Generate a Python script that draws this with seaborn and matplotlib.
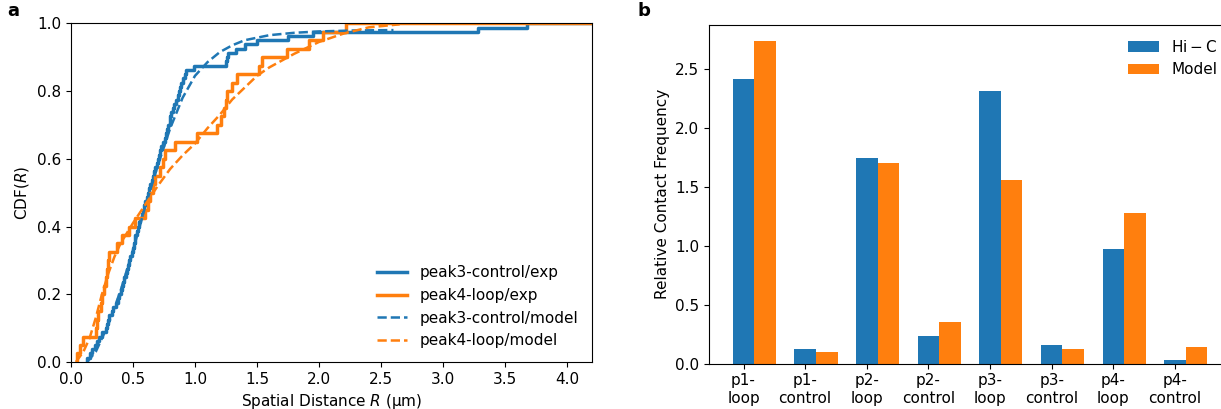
import numpy as np
import pandas as pd
import seaborn as sns
from matplotlib import pyplot as plt

plt.rcParams['font.size'] = 11

# --- panel a: spatial distances (um)
peak3_control_exp = [0.13, 0.15, 0.17, 0.19, 0.21, 0.23, 0.25, 0.28, 0.29, 0.30,
                     0.31, 0.33, 0.34, 0.36, 0.38, 0.39, 0.40, 0.41, 0.42, 0.43,
                     0.44, 0.45, 0.46, 0.47, 0.48, 0.49, 0.50, 0.51, 0.515, 0.52,
                     0.53, 0.54, 0.55, 0.56, 0.57, 0.58, 0.59, 0.60, 0.61, 0.62,
                     0.63, 0.64, 0.65, 0.66, 0.67, 0.68, 0.69, 0.70, 0.71, 0.72,
                     0.73, 0.745, 0.755, 0.765, 0.775, 0.785, 0.795, 0.80, 0.81, 0.82,
                     0.83, 0.845, 0.86, 0.87, 0.88, 0.89, 0.905, 0.92, 0.93, 0.99,
                     1.25, 1.26, 1.27, 1.33, 1.40, 1.50, 1.75, 1.95, 3.28, 3.68]
peak4_loop_exp = [0.05, 0.07, 0.10, 0.20, 0.21, 0.22, 0.24, 0.25, 0.27, 0.28,
                  0.29, 0.30, 0.31, 0.37, 0.41, 0.47, 0.52, 0.60, 0.62, 0.64,
                  0.66, 0.68, 0.72, 0.74, 0.76, 0.84, 1.02, 1.18, 1.21, 1.23,
                  1.25, 1.26, 1.30, 1.34, 1.52, 1.54, 1.74, 1.92, 2.03, 2.22]

peak3_model_r = [0.13, 0.2, 0.3, 0.4, 0.5, 0.6, 0.7, 0.8, 0.9, 1.0, 1.1, 1.2,
                 1.3, 1.4, 1.6, 1.8, 2.0, 2.3, 2.6]
peak3_model_cdf = [0.0, 0.03, 0.11, 0.21, 0.33, 0.46, 0.58, 0.69, 0.78, 0.845,
                   0.885, 0.915, 0.935, 0.95, 0.965, 0.972, 0.976, 0.979, 0.98]
peak4_model_r = [0.04, 0.1, 0.15, 0.2, 0.25, 0.3, 0.35, 0.4, 0.5, 0.6, 0.7, 0.8,
                 0.9, 1.0, 1.1, 1.2, 1.3, 1.4, 1.5, 1.6, 1.8, 2.0, 2.2, 2.4, 2.65]
peak4_model_cdf = [0.0, 0.03, 0.07, 0.13, 0.2, 0.26, 0.31, 0.35, 0.41, 0.465,
                   0.52, 0.57, 0.61, 0.645, 0.69, 0.73, 0.775, 0.81, 0.845, 0.87,
                   0.91, 0.945, 0.97, 0.988, 0.997]

# --- panel b: relative contact frequency
pairs = ["p1-\nloop", "p1-\ncontrol", "p2-\nloop", "p2-\ncontrol",
         "p3-\nloop", "p3-\ncontrol", "p4-\nloop", "p4-\ncontrol"]
hic = [2.42, 0.12, 1.75, 0.235, 2.32, 0.16, 0.97, 0.03]
model = [2.74, 0.10, 1.70, 0.355, 1.56, 0.125, 1.28, 0.14]

blue = "#1f77b4"
orange = "#ff7f0e"

fig = plt.figure(figsize=(12.21, 4.09), dpi=100)
ax1 = fig.add_axes([0.0581, 0.115, 0.4267, 0.828])
ax2 = fig.add_axes([0.5807, 0.111, 0.4275, 0.828])

sns.ecdfplot(x=peak3_control_exp, ax=ax1, color=blue, lw=2.5, label="peak3-control/exp")
sns.ecdfplot(x=peak4_loop_exp, ax=ax1, color=orange, lw=2.5, label="peak4-loop/exp")
ax1.hlines(1.0, max(peak3_control_exp), 4.2, color=blue, lw=2.5)
ax1.hlines(1.0, max(peak4_loop_exp), 4.2, color=orange, lw=2.5)
sns.lineplot(x=peak3_model_r, y=peak3_model_cdf, ax=ax1, color=blue, lw=1.8,
             linestyle="--", label="peak3-control/model")
sns.lineplot(x=peak4_model_r, y=peak4_model_cdf, ax=ax1, color=orange, lw=1.8,
             linestyle="--", label="peak4-loop/model")
ax1.set_xlim(0, 4.2)
ax1.set_ylim(0, 1.0)
ax1.set_xlabel("Spatial Distance $R$ (μm)")
ax1.set_ylabel("CDF($R$)")
ax1.legend(loc="lower right", frameon=False)

df = pd.DataFrame({"pair": pairs * 2,
                   "value": hic + model,
                   "source": [r"$\mathrm{Hi-C}$"] * len(pairs) + ["Model"] * len(pairs)})
sns.barplot(data=df, x="pair", y="value", hue="source", ax=ax2, width=0.7,
            palette=[blue, orange], saturation=1, linewidth=0)
ax2.set_xticks(np.arange(len(pairs)) - 0.175)
ax2.set_xticklabels(pairs)
ax2.set_xlim(-0.735, len(pairs) - 0.265)
ax2.set_ylim(0, max(model) * 1.05)
ax2.set_xlabel("")
ax2.set_ylabel("Relative Contact Frequency")
ax2.legend(loc="upper right", frameon=False)

fig.text(0.006, 0.962, "a", fontsize=13, fontweight="bold")
fig.text(0.522, 0.962, "b", fontsize=13, fontweight="bold")

plt.savefig("out.png", dpi=100)
